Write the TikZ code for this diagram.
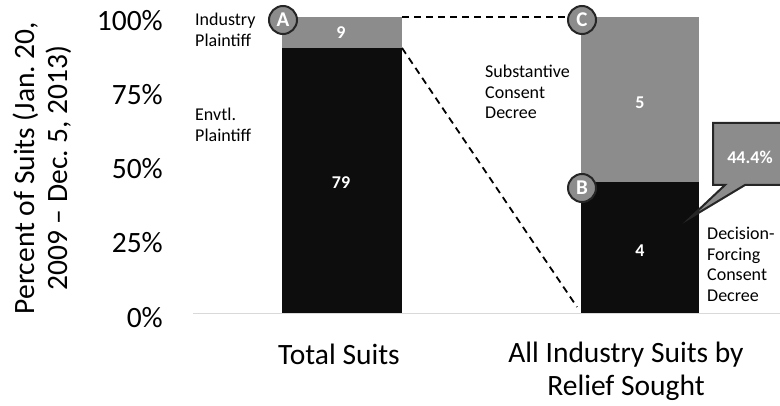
\documentclass[tikz,border=0pt]{standalone}
\usepackage{fontspec}
\setmainfont{Carlito}
\frenchspacing
\definecolor{barblack}{HTML}{0D0D0D}
\definecolor{bargray}{HTML}{8C8C8C}
\definecolor{ringcol}{HTML}{262626}
\definecolor{axiscol}{HTML}{D9D9D9}
\begin{document}
\begin{tikzpicture}[x=1pt,y=-1pt,
  big/.style={font=\fontsize{29.5}{33}\selectfont, inner sep=0pt},
  small/.style={font=\fontsize{18}{20.5}\selectfont, inner sep=0pt, align=left},
  num/.style={font=\fontsize{18}{20}\selectfont\bfseries, text=white, inner sep=0pt},
  marker/.style={circle, draw=ringcol, line width=2pt, fill=bargray, minimum size=28pt, inner sep=0pt, text=white, font=\fontsize{21}{21}\selectfont\bfseries},
  dashline/.style={dash pattern=on 7pt off 5pt, line width=1.8pt, draw=black}
]
\useasboundingbox (0,0) rectangle (780,406);
\clip (0,0) rectangle (780,406);

% axis line
\coordinate (axl) at (193,314);
\coordinate (axr) at (780,314);
\draw[axiscol, line width=1pt] (axl) -- (axr);

% bars
\fill[barblack] (282,48) rectangle (402,313);
\fill[bargray] (282,17) rectangle (402,48);
\fill[barblack] (581,182) rectangle (699,313);
\fill[bargray] (581,17) rectangle (699,182);

\coordinate (b1tr) at (402,17);
\coordinate (b1mr) at (402,48);
\coordinate (b2bl) at (577,307);

% markers
\node[marker] (A) at (283,20) {A};
\node[marker] (C) at (582,20) {C};
\node[marker] (B) at (582,188) {B};

% dashed connectors
\draw[dashline] (b1tr) -- (b1tr -| C.west);
\draw[dashline] (b1mr) -- (b2bl);

% bar numbers
\node[num] (n9) at (341,33) {9};
\node[num] (n79) at (341,183) {79};
\node[num] (n5) at (640,103) {5};
\node[num] (n4) at (640,251) {4};

% callout
\draw[ringcol, line width=2pt, fill=bargray, line join=miter]
  (713,123) -- (795,123) -- (795,185) -- (745,185) -- (690,218) -- (725,185) -- (713,185) -- cycle;
\node[num] (pct) at (750,157) {44.4\%};

% side labels
\node[small, anchor=north west] (ind) at (195,13) {Industry\\Plaintiff};
\node[small, anchor=north west] (env) at (195,108) {Envtl.\\Plaintiff};
\node[small, anchor=north west] (subst) at (485,65) {Substantive\\Consent\\Decree};
\node[small, anchor=north west] (decf) at (707,227) {Decision-\\Forcing\\Consent\\Decree};

% ticks
\node[big, anchor=base east] (t100) at (163,31) {100\%};
\node[big, anchor=base east] (t75) at (163,105) {75\%};
\node[big, anchor=base east] (t50) at (163,179) {50\%};
\node[big, anchor=base east] (t25) at (163,253) {25\%};
\node[big, anchor=base east] (t0) at (163,328) {0\%};

% axis title
\node[big, rotate=90, align=center] (ytitle) at (42,168) {Percent of Suits (Jan. 20,\\2009 -- Dec. 5, 2013)};

% categories
\node[big, anchor=base] (cat1) at (339,365) {Total Suits};
\node[big, anchor=north, align=center] (cat2) at (626,342) {All Industry Suits by\\Relief Sought};
\end{tikzpicture}
\end{document}
